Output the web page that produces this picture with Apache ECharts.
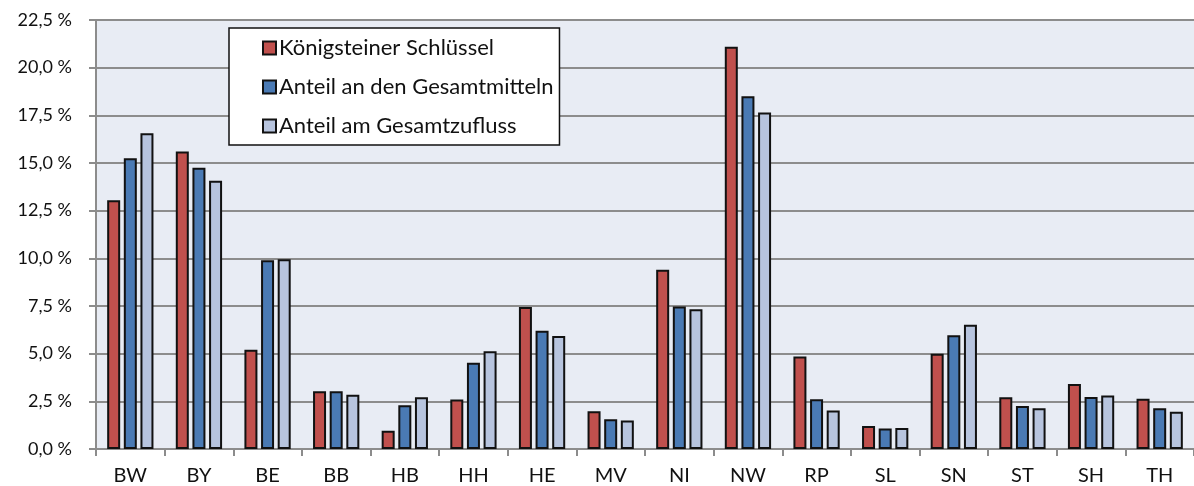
<!DOCTYPE html>
<html>
<head>
<meta charset="utf-8">
<script src="https://cdn.jsdelivr.net/npm/echarts@6/dist/echarts.min.js"></script>
<style>
  html, body { margin: 0; padding: 0; background: #fff; }
  #main { width: 1194px; height: 486px; }
</style>
</head>
<body>
<div id="main"></div>
<script>
// Bundesländer
var categories = ['BW', 'BY', 'BE', 'BB', 'HB', 'HH', 'HE', 'MV', 'NI', 'NW', 'RP', 'SL', 'SN', 'ST', 'SH', 'TH'];
// Königsteiner Schlüssel
var koenigstein = [13.05, 15.6, 5.2, 3.03, 0.96, 2.6, 7.45, 1.98, 9.4, 21.1, 4.85, 1.2, 5.0, 2.72, 3.41, 2.63];
// Anteil an den Gesamtmitteln
var gesamtmittel = [15.25, 14.75, 9.9, 3.03, 2.3, 4.53, 6.2, 1.56, 7.47, 18.5, 2.61, 1.07, 5.97, 2.26, 2.73, 2.14];
// Anteil am Gesamtzufluss
var gesamtzufluss = [16.56, 14.07, 9.95, 2.85, 2.72, 5.13, 5.93, 1.49, 7.33, 17.65, 2.02, 1.1, 6.52, 2.14, 2.8, 1.96];

var font = 'Lato, "Open Sans", sans-serif';

var myChart = echarts.init(document.getElementById('main'));

function barSeries(name, data, color) {
    return {
        name: name,
        type: 'bar',
        data: data,
        barWidth: 13,
        barGap: '28%',
        itemStyle: {
            color: color,
            borderColor: '#111',
            borderWidth: 2
        }
    };
}

myChart.setOption({
    animation: false,
    backgroundColor: '#fff',
    grid: {
        left: 96,
        right: -6,
        top: 20,
        bottom: 37,
        show: true,
        backgroundColor: '#e8ecf4',
        borderWidth: 0
    },
    legend: {
        orient: 'vertical',
        left: 229,
        top: 28,
        padding: [8, 6, 7, 33],
        itemGap: 15,
        itemWidth: 13,
        itemHeight: 13,
        icon: 'rect',
        backgroundColor: '#fff',
        borderColor: '#111',
        borderWidth: 1.5,
        textStyle: { fontFamily: font, fontSize: 22, lineHeight: 24, color: '#111', padding: [0, 0, 0, -2] },
        data: ['Königsteiner Schlüssel', 'Anteil an den Gesamtmitteln', 'Anteil am Gesamtzufluss']
    },
    xAxis: {
        type: 'category',
        data: categories,
        axisLine: { lineStyle: { color: '#8c8c8c', width: 2 } },
        axisTick: { show: true, length: 7, inside: false, lineStyle: { color: '#8c8c8c', width: 2 } },
        axisLabel: { fontFamily: font, fontSize: 20, color: '#111', margin: 17 }
    },
    yAxis: {
        type: 'value',
        min: 0,
        max: 22.5,
        interval: 2.5,
        axisLine: { show: true, lineStyle: { color: '#8c8c8c', width: 2 } },
        axisTick: { show: true, length: 7, lineStyle: { color: '#8c8c8c', width: 2 } },
        splitLine: { lineStyle: { color: '#8c8c8c', width: 2 } },
        axisLabel: {
            fontFamily: font,
            fontSize: 18,
            color: '#111',
            margin: 24,
            formatter: function (v) { return v.toFixed(1).replace('.', ',') + ' %'; }
        }
    },
    series: [
        barSeries('Königsteiner Schlüssel', koenigstein, '#c0504d'),
        barSeries('Anteil an den Gesamtmitteln', gesamtmittel, '#4a7ab4'),
        barSeries('Anteil am Gesamtzufluss', gesamtzufluss, '#b7c4de')
    ]
});
</script>
</body>
</html>
